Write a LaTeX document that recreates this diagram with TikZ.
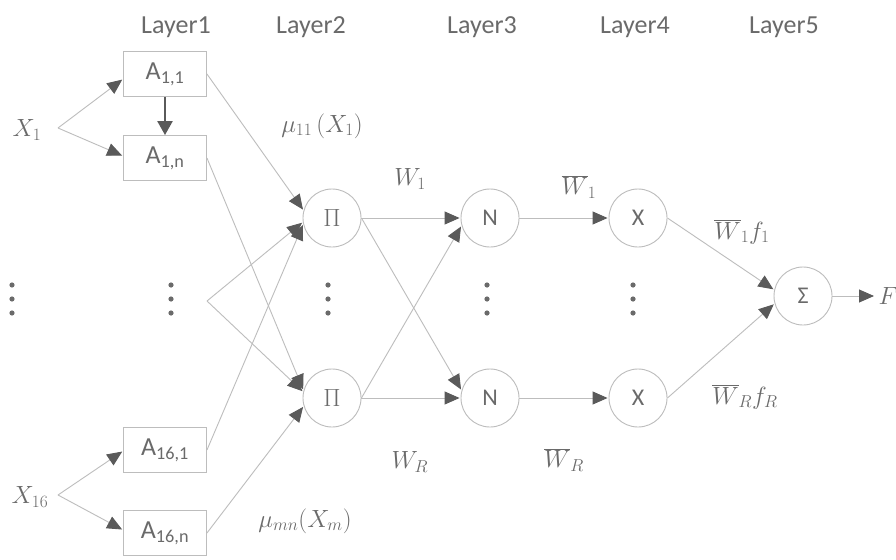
\documentclass[tikz,border=0pt]{standalone}
\usepackage{fontspec}
\setmainfont{Carlito}
\usetikzlibrary{arrows.meta}
\definecolor{txt}{HTML}{6A6A6A}
\definecolor{ln}{HTML}{BDBDBD}
\definecolor{tip}{HTML}{5A5A5A}
\tikzset{
  box/.style={draw=ln, line width=0.9pt, minimum width=83pt, minimum height=45pt, inner sep=0pt, text=txt, font=\fontsize{26}{28}\selectfont},
  circ/.style={circle, draw=ln, line width=0.9pt, minimum size=58pt, inner sep=0pt, text=txt, font=\fontsize{24}{26}\selectfont},
  conn/.style={draw=ln, line width=0.9pt, -{Triangle[length=15pt,width=13pt,color=tip]}, shorten >=1pt},
  lab/.style={text=txt, font=\fontsize{26}{28}\selectfont},
  mlab/.style={text=txt, font=\fontsize{26}{30}\selectfont},
  dot/.style={fill=txt, draw=none}
}
\begin{document}
\begin{tikzpicture}[x=1pt,y=-1pt]
\useasboundingbox[fill=white] (0,0) rectangle (896,559);
% layer labels
\node[lab] (L1) at (176,27) {Layer1};
\node[lab] (L2) at (311,27) {Layer2};
\node[lab] (L3) at (482,27) {Layer3};
\node[lab] (L4) at (635,27) {Layer4};
\node[lab] (L5) at (784,27) {Layer5};
% inputs
\node[mlab] (x1) at (27,130) {$X_1$};
\node[mlab] (x16) at (30,497) {$X_{16}$};
\coordinate (x1v) at (58,128);
\coordinate (x16v) at (58,495);
% layer 1
\node[box] (a11) at (165,74) {A\textsubscript{1,1}};
\node[box] (a1n) at (165,158) {A\textsubscript{1,n}};
\node[box] (a161) at (165,450) {A\textsubscript{16,1}};
\node[box] (a16n) at (165,533) {A\textsubscript{16,n}};
\coordinate (mid1) at (207,301);
% layer 2..5
\node[circ] (p1) at (332,218) {$\Pi$};
\node[circ] (p2) at (332,398) {$\Pi$};
\node[circ] (n1) at (490,218) {N};
\node[circ] (n2) at (490,398) {N};
\node[circ] (m1) at (638,218) {X};
\node[circ] (m2) at (638,398) {X};
\node[circ] (s) at (803,296) {Σ};
\node[mlab, anchor=west] (F) at (875,296) {$F$};
% dots
\foreach \x in {12,171,328,487,633}{
  \fill[dot] (\x,285) circle (2.6pt);
  \fill[dot] (\x,299) circle (2.6pt);
  \fill[dot] (\x,313) circle (2.6pt);
}
% labels
\node[mlab] (mu11) at (322,126) {$\mu_{11}\,(X_1)$};
\node[mlab] (w1) at (410,179) {$W_1$};
\node[mlab] (wb1) at (579,187) {$\overline{W}_1$};
\node[mlab] (wf1) at (742,232) {$\overline{W}_1 f_1$};
\node[mlab] (wfr) at (745,397) {$\overline{W}_R f_R$};
\node[mlab] (wr) at (410,462) {$W_R$};
\node[mlab] (wbr) at (564,460) {$\overline{W}_R$};
\node[mlab] (mumn) at (305,521) {$\mu_{mn}(X_m)$};
% connectors
\draw[conn] (x1v) -- (a11.west |- 0,79);
\draw[conn] (x1v) -- (a1n.west |- 0,156);
\draw[conn] (x16v) -- (a161.west |- 0,451);
\draw[conn] (x16v) -- (a16n.west |- 0,530);
\draw[draw=tip, line width=2.4pt, -{Triangle[length=14pt,width=15pt,color=tip]}] (a11.south) -- (a1n.north);
\draw[conn] (a11.east) -- (p1.165);
\draw[conn] (mid1) -- (p1.188);
\draw[conn] (a161.east) -- (p1.192);
\draw[conn] (a1n.east) -- (p2.165);
\draw[conn] (mid1) -- (p2.168);
\draw[conn] (a16n.east) -- (p2.196);
\draw[conn] (p1) -- (n1);
\draw[conn] (p1.east) -- (n2.165);
\draw[conn] (p2.east) -- (n1.195);
\draw[conn] (p2) -- (n2);
\draw[conn] (n1) -- (m1);
\draw[conn] (n2) -- (m2);
\draw[conn] (m1.east) -- (s.168);
\draw[conn] (m2.east) -- (s.195);
\draw[conn] (s) -- (F);
\end{tikzpicture}
\end{document}
